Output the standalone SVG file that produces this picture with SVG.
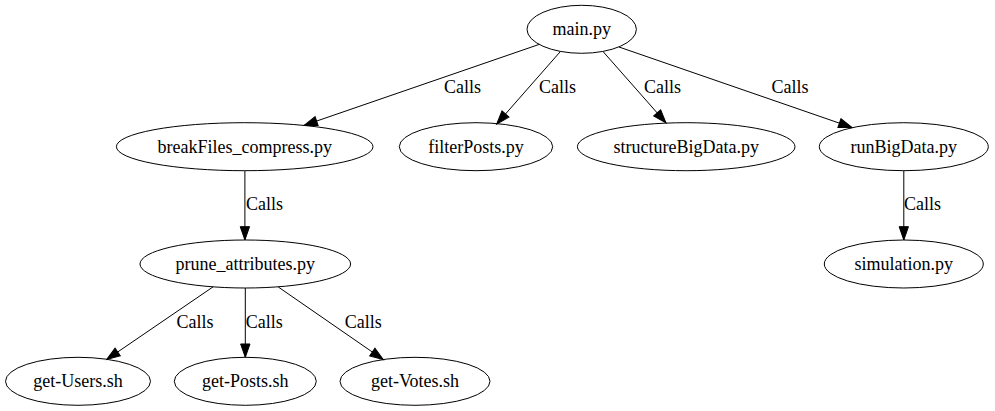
<svg xmlns="http://www.w3.org/2000/svg" width="995" height="411" viewBox="0 0 995 411">
<style>
.node ellipse{fill:none;stroke:#000;stroke-width:1}
text{font-family:"Liberation Serif","Times New Roman",serif;font-size:18px;fill:#000;text-anchor:middle}
.edge{fill:none;stroke:#000;stroke-width:1;marker-end:url(#arr)}
</style>
<defs>
<marker id="arr" markerUnits="userSpaceOnUse" viewBox="0 0 14 10" markerWidth="14" markerHeight="10" refX="13.33" refY="5" orient="auto" overflow="visible">
<path d="M0,0.33 L13.33,5 L0,9.67 Z" fill="#000" stroke="#000" stroke-width="1"/>
</marker>
</defs>
<rect width="995" height="411" fill="#fff"/>
<g id="connectors">
<path class="edge" d="M539.2,44.4 L304,125.4"/>
<path class="edge" d="M560.5,51.4 L496.7,124"/>
<path class="edge" d="M603,51.5 L666,122.9"/>
<path class="edge" d="M619,47 L852,127.5"/>
<path class="edge" d="M244.9,170.7 L244.9,240"/>
<path class="edge" d="M903.8,170.7 L903.8,240"/>
<path class="edge" d="M213.3,286.7 L106.7,359.5"/>
<path class="edge" d="M245.3,288 L245.3,357.3"/>
<path class="edge" d="M278.3,287 L383.3,359.6"/>
<text x="462.5" y="92.7">Calls</text>
<text x="557.5" y="92.7">Calls</text>
<text x="662.5" y="92.7">Calls</text>
<text x="790" y="92.7">Calls</text>
<text x="264.5" y="210">Calls</text>
<text x="922.5" y="210">Calls</text>
<text x="195" y="328">Calls</text>
<text x="264.2" y="328">Calls</text>
<text x="363.3" y="328">Calls</text>
</g>
<g id="main" class="node"><ellipse cx="581.7" cy="29.3" rx="54.7" ry="24"/><text x="581.7" y="35.3">main.py</text></g>
<g id="breakFiles_compress" class="node"><ellipse cx="244.7" cy="146.7" rx="128.3" ry="24"/><text x="244.7" y="152.7">breakFiles_compress.py</text></g>
<g id="filterPosts" class="node"><ellipse cx="476" cy="146.7" rx="76.7" ry="24"/><text x="476" y="152.7">filterPosts.py</text></g>
<g id="structureBigData" class="node"><ellipse cx="686.2" cy="146.7" rx="108.8" ry="24"/><text x="686.2" y="152.7">structureBigData.py</text></g>
<g id="runBigData" class="node"><ellipse cx="903.8" cy="146.7" rx="84.5" ry="24"/><text x="903.8" y="152.7">runBigData.py</text></g>
<g id="prune_attributes" class="node"><ellipse cx="245.3" cy="264" rx="105.3" ry="24"/><text x="245.3" y="270">prune_attributes.py</text></g>
<g id="simulation" class="node"><ellipse cx="903.8" cy="264" rx="79.5" ry="24"/><text x="903.8" y="270">simulation.py</text></g>
<g id="get-Users" class="node"><ellipse cx="78" cy="381.3" rx="72.5" ry="24"/><text x="78" y="387.3">get-Users.sh</text></g>
<g id="get-Posts" class="node"><ellipse cx="245.3" cy="381.3" rx="71" ry="24"/><text x="245.3" y="387.3">get-Posts.sh</text></g>
<g id="get-Votes" class="node"><ellipse cx="415" cy="381.3" rx="75" ry="24"/><text x="415" y="387.3">get-Votes.sh</text></g>
</svg>
